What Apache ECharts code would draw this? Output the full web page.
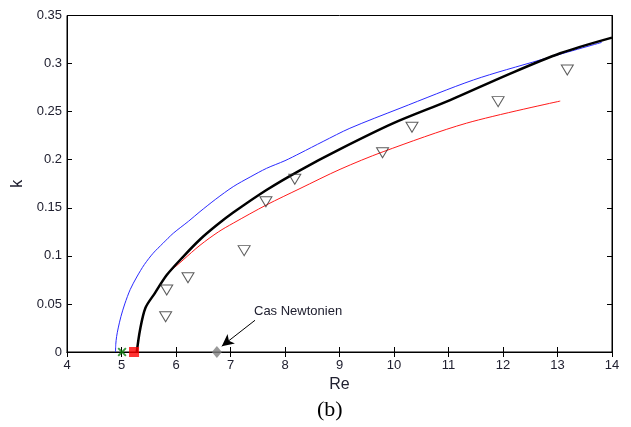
<!DOCTYPE html>
<html><head><meta charset="utf-8">
<script src="https://cdn.jsdelivr.net/npm/echarts@6/dist/echarts.min.js"></script>
<style>html,body{margin:0;padding:0;background:#fff}#c{width:631px;height:427px}</style>
</head><body><div id="c"></div>
<script>
// Data
var blueRe = [4.89, 4.895, 4.91, 4.94, 4.99, 5.06, 5.16, 5.28, 5.42, 5.58, 5.76, 5.95, 6.23, 6.44, 6.73, 7.05, 7.36, 7.66, 8.0, 8.275, 8.70, 9.19, 10.11, 11.46, 12.68, 13.81];
var blueK  = [0.0, 0.008, 0.016, 0.025, 0.037, 0.050, 0.065, 0.078, 0.091, 0.1027, 0.113, 0.1235, 0.136, 0.146, 0.159, 0.172, 0.182, 0.191, 0.199, 0.2067, 0.219, 0.2327, 0.2535, 0.283, 0.3037, 0.322];
var blackRe = [5.28, 5.34, 5.44, 5.61, 5.83, 6.13, 6.44, 6.75, 7.05, 7.66, 8.275, 9.01, 9.99, 11.03, 12.07, 13.05, 14.0];
var blackK  = [0.0, 0.023, 0.046, 0.061, 0.080, 0.099, 0.117, 0.132, 0.145, 0.1685, 0.189, 0.211, 0.238, 0.262, 0.288, 0.3107, 0.327];
var redRe = [5.28, 5.34, 5.44, 5.61, 5.83, 6.13, 6.44, 6.78, 7.05, 7.66, 8.275, 9.01, 9.80, 11.33, 13.05];
var redK  = [0.0, 0.023, 0.046, 0.061, 0.080, 0.0957, 0.111, 0.125, 0.134, 0.153, 0.170, 0.190, 0.2083, 0.238, 0.261];
var triRe = [5.81, 5.83, 6.22, 7.25, 7.65, 8.18, 9.79, 10.33, 11.91, 13.18];
var triK  = [0.0367, 0.0645, 0.0773, 0.1054, 0.1563, 0.1796, 0.2073, 0.2337, 0.2604, 0.2933];
var greenPt = [5.01, 0];
var redPt = [5.23, 0];
var newtonPt = [6.75, 0];
var arrowFrom = [7.45, 0.033];
var arrowTo = [6.84, 0.006];
var xTicks = [4, 14, 1];
var yTicks = [0, 0.35, 0.05];

function zip(a, b) { return a.map(function (v, i) { return [v, b[i]]; }); }

var chart = echarts.init(document.getElementById('c'), null, {renderer: 'canvas'});
var FONT = 'Arial, "Liberation Sans", sans-serif';
var labelStyle = {color: '#202030', fontFamily: FONT, fontSize: 13};
var crossPath = 'path://M0,1.5 L1.5,0 L5,3.5 L8.5,0 L10,1.5 L6.5,5 L10,8.5 L8.5,10 L5,6.5 L1.5,10 L0,8.5 L3.5,5 Z';
chart.setOption({
  animation: false,
  grid: {left: 67, right: 19, top: 15.5, bottom: 75, show: true, borderColor: '#000', borderWidth: 1},
  xAxis: [{
    type: 'value', min: xTicks[0], max: xTicks[1], interval: xTicks[2],
    axisLine: {show: true, onZero: false, lineStyle: {color: '#000', width: 1}},
    axisTick: {show: true, inside: true, length: 5, lineStyle: {color: '#000'}},
    axisLabel: Object.assign({margin: 7}, labelStyle),
    splitLine: {show: false},
    name: 'Re', nameLocation: 'middle', nameGap: 23,
    nameTextStyle: {color: '#202030', fontFamily: FONT, fontSize: 16}
  }, {
    type: 'value', position: 'top', min: xTicks[0], max: xTicks[1], interval: xTicks[2],
    axisLine: {show: true, lineStyle: {color: '#000'}},
    axisTick: {show: true, inside: true, length: 5, lineStyle: {color: '#000'}},
    axisLabel: {show: false}, splitLine: {show: false}
  }],
  yAxis: [{
    type: 'value', min: yTicks[0], max: yTicks[1], interval: yTicks[2],
    axisLine: {show: true, onZero: false, lineStyle: {color: '#000'}},
    axisTick: {show: true, inside: true, length: 5, lineStyle: {color: '#000'}},
    axisLabel: Object.assign({margin: 5}, labelStyle),
    splitLine: {show: false},
    name: 'k', nameLocation: 'middle', nameGap: 40, nameRotate: 90,
    nameTextStyle: {color: '#202030', fontFamily: FONT, fontSize: 16}
  }, {
    type: 'value', position: 'right', min: yTicks[0], max: yTicks[1], interval: yTicks[2],
    axisLine: {show: true, lineStyle: {color: '#000'}},
    axisTick: {show: true, inside: true, length: 5, lineStyle: {color: '#000'}},
    axisLabel: {show: false}, splitLine: {show: false}
  }],
  series: [
    {type: 'line', data: zip(blueRe, blueK), showSymbol: false, smooth: 0.3,
     lineStyle: {color: '#2a2aff', width: 1}, z: 2},
    {type: 'line', data: zip(redRe, redK), showSymbol: false, smooth: 0.3,
     lineStyle: {color: '#ff1a1a', width: 1}, z: 3},
    {type: 'line', data: zip(blackRe, blackK), showSymbol: false, smooth: 0.3,
     lineStyle: {color: '#000', width: 2.5}, z: 4},
    {type: 'scatter', data: zip(triRe, triK), symbol: 'triangle', symbolRotate: 180, symbolSize: [12, 10],
     itemStyle: {color: 'rgba(255,255,255,0)', borderColor: '#333', borderWidth: 1}, z: 5},
    {type: 'scatter', data: [newtonPt], symbol: 'diamond', symbolSize: [10, 12],
     itemStyle: {color: '#808080'}, z: 6,
     markLine: {silent: true, symbol: ['none', 'arrow'], symbolSize: [9, 12],
       lineStyle: {color: '#000', width: 1, type: 'solid'}, label: {show: false},
       data: [[{coord: arrowFrom}, {coord: arrowTo}]]}},
    {type: 'scatter', data: [greenPt], symbol: crossPath, symbolSize: 9,
     itemStyle: {color: '#0a800a'}, z: 7},
    {type: 'scatter', data: [redPt], symbol: 'rect', symbolSize: 10,
     itemStyle: {color: '#ff0000'}, z: 8}
  ],
  graphic: [
    {type: 'text', left: 254, top: 305, style: {text: 'Cas Newtonien', fill: '#202030',
      font: '13px Arial, "Liberation Sans", sans-serif'}},
    {type: 'text', left: 317, top: 399, style: {text: '(b)', fill: '#000',
      font: '22px "Liberation Serif", "Times New Roman", serif'}}
  ]
});
</script></body></html>
